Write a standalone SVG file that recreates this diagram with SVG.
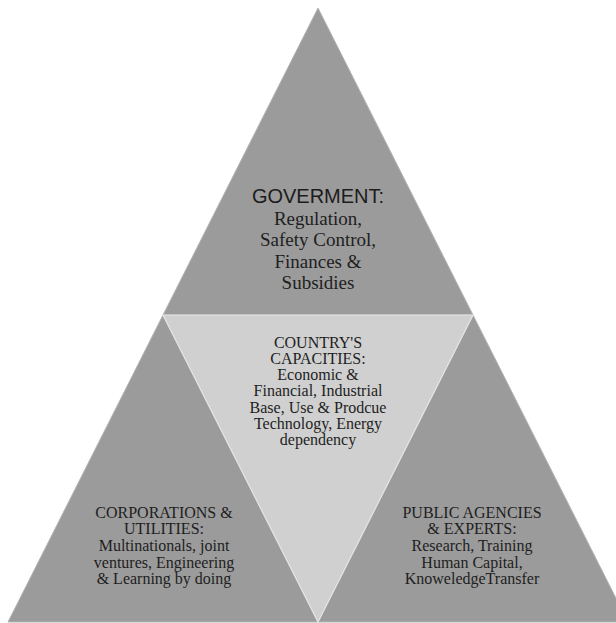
<svg xmlns="http://www.w3.org/2000/svg" width="616" height="623" viewBox="0 0 616 623">
  <style>
    .dark { fill: #9b9b9b; stroke: #b4b4b4; stroke-width: 1; }
    .light { fill: #d0d0d0; stroke: #e4e4e4; stroke-width: 1.2; }
    .title { font-family: "Liberation Sans", Arial, sans-serif; font-size: 20px; fill: #1c1c1c; text-anchor: middle; }
    .body { font-family: "Liberation Serif", "Times New Roman", serif; fill: #1e1e1e; text-anchor: middle; }
    .big { font-size: 19px; }
    .small { font-size: 16px; }
  </style>
  <rect width="616" height="623" fill="#ffffff"/>

  <!-- top: government -->
  <g id="government">
    <polygon class="dark" points="318,8 163,315 473,315"/>
    <text class="title" x="318" y="203">GOVERMENT:</text>
    <text class="body big" x="318" y="225">Regulation,</text>
    <text class="body big" x="318" y="246">Safety Control,</text>
    <text class="body big" x="318" y="268">Finances &amp;</text>
    <text class="body big" x="318" y="289">Subsidies</text>
  </g>

  <!-- bottom left: corporations -->
  <g id="corporations">
    <polygon class="dark" points="163,315 8,622 318,622"/>
    <text class="body small" x="164" y="518">CORPORATIONS &amp;</text>
    <text class="body small" x="164" y="534">UTILITIES:</text>
    <text class="body small" x="164" y="551">Multinationals, joint</text>
    <text class="body small" x="164" y="568">ventures, Engineering</text>
    <text class="body small" x="164" y="584">&amp; Learning by doing</text>
  </g>

  <!-- bottom right: public agencies -->
  <g id="public-agencies">
    <polygon class="dark" points="473,315 318,622 628,622"/>
    <text class="body small" x="472" y="518">PUBLIC AGENCIES</text>
    <text class="body small" x="472" y="534">&amp; EXPERTS:</text>
    <text class="body small" x="472" y="551">Research, Training</text>
    <text class="body small" x="472" y="568">Human Capital,</text>
    <text class="body small" x="472" y="584">KnoweledgeTransfer</text>
  </g>

  <!-- centre (inverted): country's capacities -->
  <g id="country-capacities">
    <polygon class="light" points="163,315 473,315 318,622"/>
    <text class="body small" x="318" y="348">COUNTRY'S</text>
    <text class="body small" x="318" y="364">CAPACITIES:</text>
    <text class="body small" x="318" y="380">Economic &amp;</text>
    <text class="body small" x="318" y="396">Financial, Industrial</text>
    <text class="body small" x="318" y="413">Base, Use &amp; Prodcue</text>
    <text class="body small" x="318" y="429">Technology, Energy</text>
    <text class="body small" x="318" y="445">dependency</text>
  </g>
</svg>
